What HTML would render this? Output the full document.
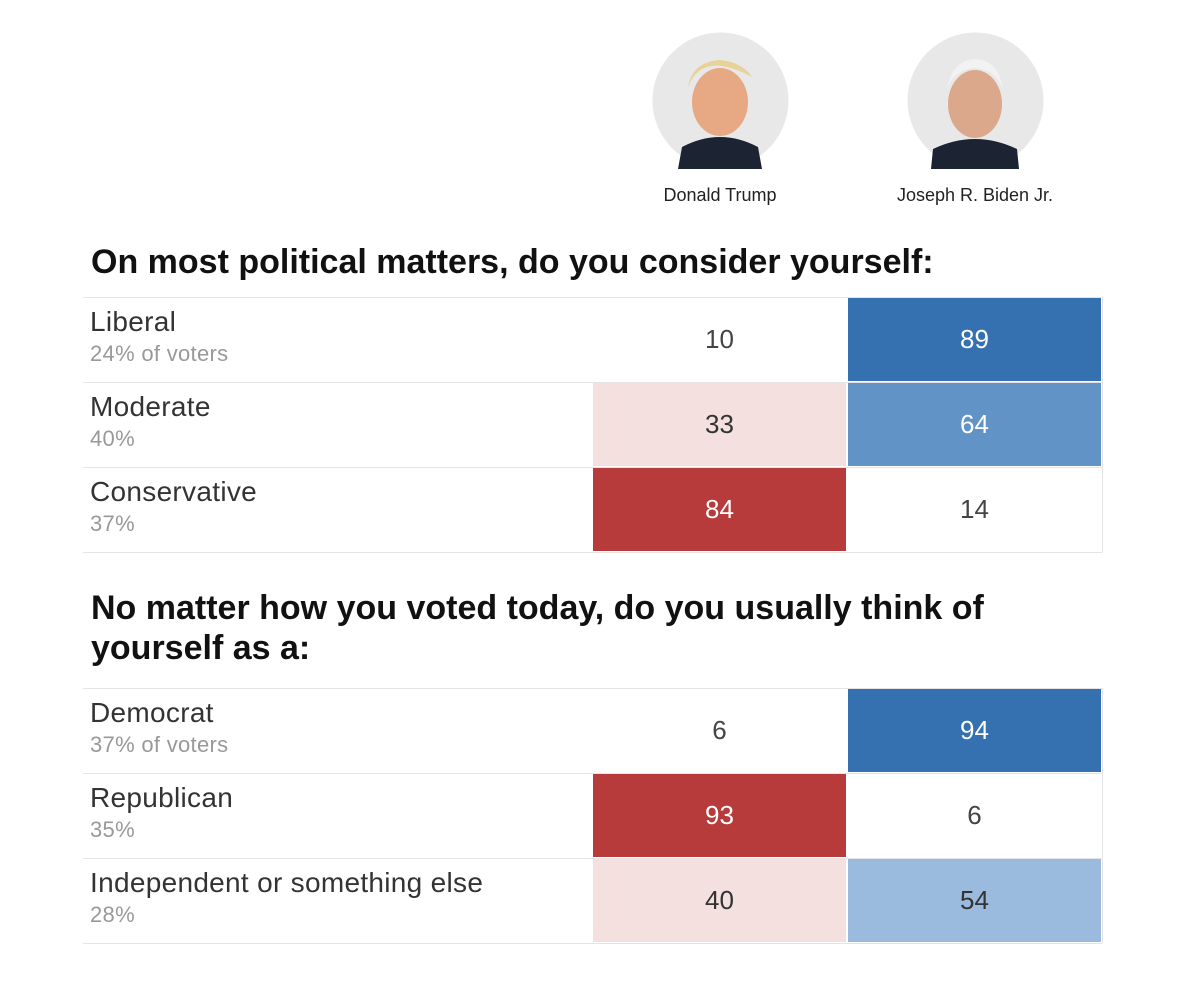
<!DOCTYPE html>
<html><head><meta charset="utf-8">
<style>
body{margin:0;width:1200px;height:1003px;background:#fff;font-family:"Liberation Sans",sans-serif;position:relative;overflow:hidden}
.abs{position:absolute}
.h{position:absolute;left:91px;font-family:"Liberation Sans Narrow","Liberation Sans",sans-serif;font-weight:bold;font-size:34px;color:#111;line-height:40px}
.line{position:absolute;left:83px;width:1019px;height:1px;background:#e4e4e4}
.lab{position:absolute;left:90px;font-size:28px;letter-spacing:0.3px;color:#333}
.sub{position:absolute;left:90px;font-size:22px;letter-spacing:0.3px;color:#999}
.cell{position:absolute;width:253px;height:83px;display:flex;align-items:center;justify-content:center;font-size:26px}
.name{position:absolute;font-size:18px;color:#222;text-align:center;width:250px}
</style></head><body>
<svg class="abs" style="left:652px;top:32px" width="137" height="137"><circle cx="68.5" cy="68.5" r="68" fill="#e8e8e8"/><path d="M30 115 Q68 95 106 115 L110 137 L26 137Z" fill="#1c2433"/><ellipse cx="68" cy="70" rx="28" ry="34" fill="#e6a983"/><path d="M36 55 Q50 18 100 45 Q90 30 68 28 Q40 30 36 55Z" fill="#e8d29a"/></svg>
<svg class="abs" style="left:907px;top:32px" width="137" height="137"><circle cx="68.5" cy="68.5" r="68" fill="#e8e8e8"/><path d="M26 117 Q68 97 110 117 L112 137 L24 137Z" fill="#1c2433"/><ellipse cx="68" cy="72" rx="27" ry="34" fill="#dba88c"/><path d="M40 58 Q45 28 68 27 Q92 28 96 58 Q90 38 68 36 Q46 38 40 58Z" fill="#f2f2f2"/></svg>
<div class="name" style="left:595px;top:185px">Donald Trump</div>
<div class="name" style="left:850px;top:185px">Joseph R. Biden Jr.</div>
<div class="h" style="top:242px">On most political matters, do you consider yourself:</div>
<div class="h" style="top:588px">No matter how you voted today, do you usually think of<br>yourself as a:</div>
<div id="t"></div>
<script>
const groupStarts=[297,688];
const categories=[["Liberal","Moderate","Conservative"],["Democrat","Republican","Independent or something else"]];
const shares=[["24% of voters","40%","37%"],["37% of voters","35%","28%"]];
const trumpVals=[[10,33,84],[6,93,40]];
const bidenVals=[[89,64,14],[94,6,54]];
function col(v,party){
  if(v<25)return["#fff","#444"];
  if(party==="r"){return v>=70?["#b83b3b","#fff"]:["#f5e0e0","#333"];}
  if(v>=80)return["#3571b1","#fff"];
  if(v>=60)return["#6193c6","#fff"];
  return["#9bbbde","#333"];
}
const t=document.getElementById('t');
const rowH=85;
groupStarts.forEach((y0,g)=>{
  categories[g].forEach((c,i)=>{
    const y=y0+i*rowH;
    const ln=document.createElement('div');ln.className='line';ln.style.top=y+'px';
    
    
    t.appendChild(ln);
    const l=document.createElement('div');l.className='lab';l.style.top=(y+9)+'px';l.textContent=c;
    
    
    t.appendChild(l);
    const s=document.createElement('div');s.className='sub';s.style.top=(y+44)+'px';s.textContent=shares[g][i];
    
    
    t.appendChild(s);
    [[trumpVals[g][i],'r',593],[bidenVals[g][i],'d',848]].forEach(([v,p,x])=>{
      const [bg,fg]=col(v,p);
      const d=document.createElement('div');d.className='cell';
      d.style.left=x+'px';d.style.top=(y+1)+'px';d.style.background=bg;d.style.color=fg;d.textContent=v;
      
      
      t.appendChild(d);
    });
  });
  const ln=document.createElement('div');ln.className='line';ln.style.top=(y0+3*rowH)+'px';
  
  
  t.appendChild(ln);
  const r=document.createElement('div');r.className='abs';r.style.cssText=`left:1102px;top:${y0}px;width:1px;height:${3*rowH}px;background:#e4e4e4`;
  
  
  t.appendChild(r);
});
</script>
</body></html>
